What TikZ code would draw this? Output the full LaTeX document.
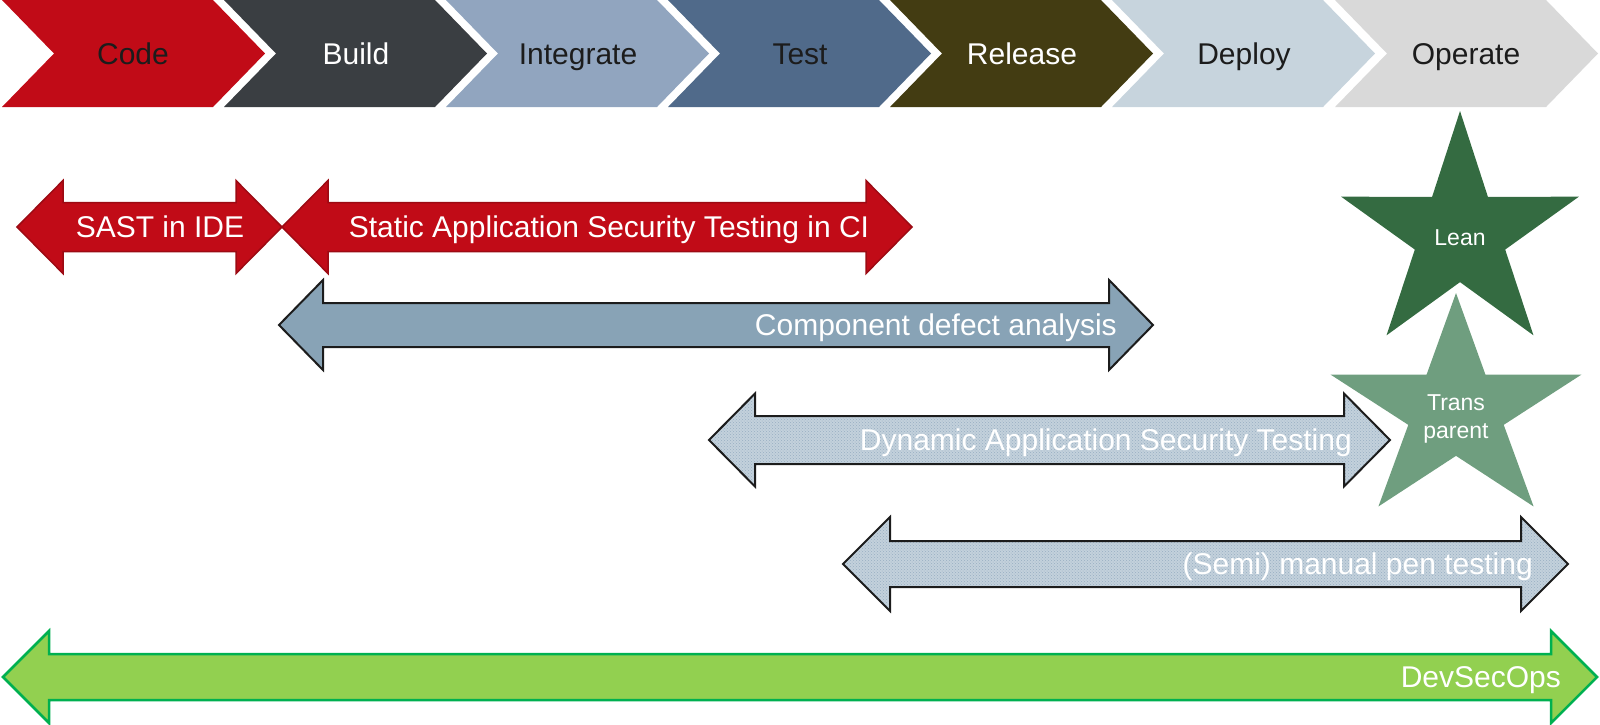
\documentclass[tikz,border=0pt]{standalone}
\usepackage{fontspec}
\setmainfont{Liberation Sans}
\usetikzlibrary{patterns}
\definecolor{cCode}{HTML}{C10B17}
\definecolor{cBuild}{HTML}{3A3E42}
\definecolor{cInteg}{HTML}{91A5BF}
\definecolor{cTest}{HTML}{506A8A}
\definecolor{cRel}{HTML}{433C12}
\definecolor{cDeploy}{HTML}{C7D4DD}
\definecolor{cOper}{HTML}{D9D9D9}
\definecolor{cDark}{HTML}{1C1C1C}
\definecolor{cRedLine}{HTML}{9C0A13}
\definecolor{cComp}{HTML}{88A3B6}
\definecolor{cPat}{HTML}{C3D1DC}
\definecolor{cPatDot}{HTML}{98AEC2}
\definecolor{cDevFill}{HTML}{92D050}
\definecolor{cDevLine}{HTML}{00B050}
\definecolor{cLean}{HTML}{346B41}
\definecolor{cTrans}{HTML}{6F9E7F}
\newcommand{\chevpath}[1]{(#1,0) -- ({#1+211},0) -- ({#1+263},53.5) -- ({#1+211},107) -- (#1,107) -- ({#1+52},53.5) -- cycle}
\newcommand{\dblpath}[6]{({#1},{#3}) -- ({#1+#4},{#3-#6}) -- ({#1+#4},{#3-#5}) -- ({#2-#4},{#3-#5}) -- ({#2-#4},{#3-#6}) -- ({#2},{#3}) -- ({#2-#4},{#3+#6}) -- ({#2-#4},{#3+#5}) -- ({#1+#4},{#3+#5}) -- ({#1+#4},{#3+#6}) -- cycle}
\newcommand{\starpath}[5]{plot[samples at={0,...,9}, variable=\k] ({#1+(mod(\k,2)==0 ? 1 : #5)*#3*cos(90+36*\k)}, {#2-(mod(\k,2)==0 ? 1 : #5)*#4*sin(90+36*\k)}) -- cycle}
\tikzset{
  big/.style={font=\fontsize{30}{36}\selectfont, inner sep=0pt},
  chevtxt/.style={big, anchor=base},
  redarrow/.style={fill=cCode, draw=cRedLine, line width=1.5pt, line join=miter},
  comparrow/.style={fill=cComp, draw=cDark, line width=2pt, line join=miter},
  patarrow/.style={fill=cPat, postaction={pattern=crosshatch dots, pattern color=cPatDot}},
  patline/.style={draw=cDark, line width=2pt, line join=miter},
  devarrow/.style={fill=cDevFill, draw=cDevLine, line width=2.5pt, line join=miter},
  startxt/.style={font=\fontsize{23}{28}\selectfont, text=white, align=center, inner sep=0pt},
}
\begin{document}
\begin{tikzpicture}[x=1pt,y=-1pt]
\useasboundingbox (0,0) rectangle (1600,724);
% chevrons
\fill[cCode]   \chevpath{2};
\fill[cBuild]  \chevpath{224};
\fill[cInteg]  \chevpath{446};
\fill[cTest]   \chevpath{668};
\fill[cRel]    \chevpath{890};
\fill[cDeploy] \chevpath{1112};
\fill[cOper]   \chevpath{1335};
\node[chevtxt, text=cDark] (code)   at (133,64.5)  {Code};
\node[chevtxt, text=white] (build)  at (356,64.5)  {Build};
\node[chevtxt, text=cDark] (integ)  at (578,64.5)  {Integrate};
\node[chevtxt, text=cDark] (test)   at (800,64.5)  {Test};
\node[chevtxt, text=white] (rel)    at (1022,64.5) {Release};
\node[chevtxt, text=cDark] (deploy) at (1244,64.5) {Deploy};
\node[chevtxt, text=cDark] (oper)   at (1466,64.5) {Operate};
% red arrows
\path[redarrow] \dblpath{17}{282}{227}{46}{24.5}{46.5};
\path[redarrow] \dblpath{282}{912}{227}{46}{24.5}{46.5};
\node[big, text=white, anchor=base] (sast) at (160,237.5) {SAST in IDE};
\node[big, text=white, anchor=base] (sastci) at (609,237.5) {Static Application Security Testing in CI};
% component defect analysis
\path[comparrow] \dblpath{279}{1153}{325}{44}{22}{45};
\node[big, text=white, anchor=base east] (comp) at (1117,335.5) {Component defect analysis};
% DAST
\path[patarrow] \dblpath{709}{1390}{440}{46}{24}{46.5};
\path[patline] \dblpath{709}{1390}{440}{46}{24}{46.5};
\node[big, text=white, anchor=base east] (dast) at (1352,450.5) {Dynamic Application Security Testing};
% pen testing
\path[patarrow] \dblpath{843}{1568}{564}{47}{23}{47};
\path[patline] \dblpath{843}{1568}{564}{47}{23}{47};
\node[big, text=white, anchor=base east] (pen) at (1533,574.5) {(Semi) manual pen testing};
% DevSecOps
\path[devarrow] \dblpath{3}{1597}{677}{46}{23}{46};
\node[big, text=white, anchor=base east] (dso) at (1561,687.5) {DevSecOps};
% stars
\fill[cLean] \starpath{1460}{235}{125}{124}{0.38};
\fill[cTrans] \starpath{1456}{411}{132}{118}{0.38};
\node[startxt] (lean) at (1460,238) {Lean};
\node[startxt] (trans) at (1456,419) {Trans\\parent};
\end{tikzpicture}
\end{document}
